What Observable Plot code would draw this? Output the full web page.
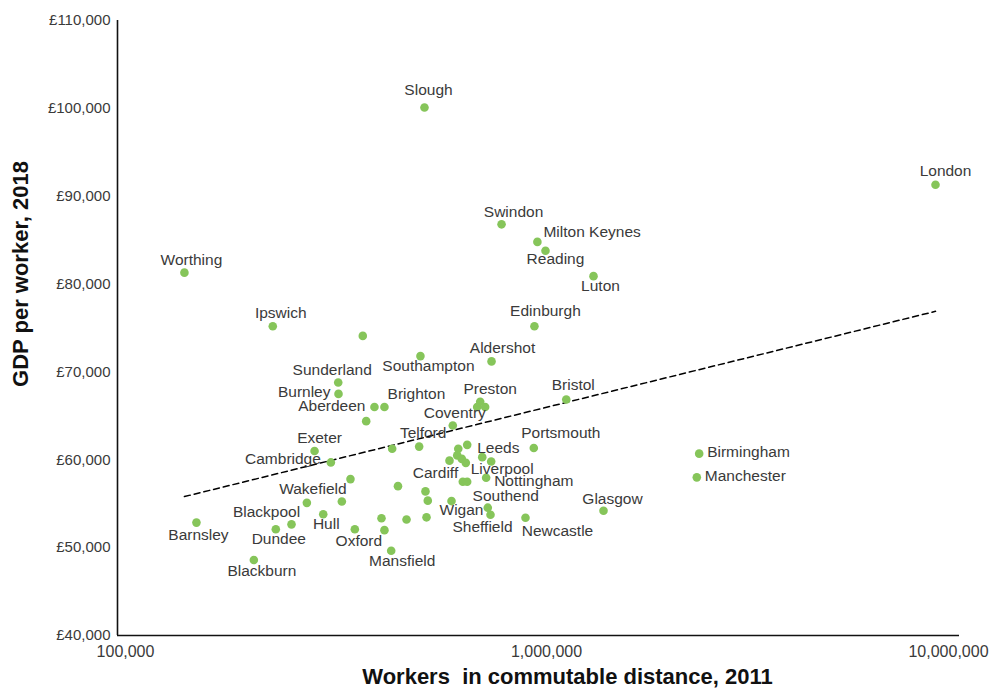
<!DOCTYPE html>
<html><head><meta charset="utf-8">
<script src="https://cdn.jsdelivr.net/npm/d3@7"></script>
<script src="https://cdn.jsdelivr.net/npm/@observablehq/plot@0.6"></script>
<style>body{margin:0;background:#fff}</style>
</head><body><div id="chart"></div>
<script>
// City labels ("" = unlabelled point)
const cities = ["Slough","London","Swindon","Milton Keynes","Reading","Luton","Worthing","Ipswich","","Edinburgh",
  "Southampton","Aldershot","Sunderland","Burnley","Aberdeen","Brighton","","Preston","","",
  "Coventry","Telford","","Exeter","Cambridge","","","","Leeds","Cardiff",
  "","","","","Liverpool","Portsmouth","Nottingham","","","",
  "","Wigan","Wakefield","","Hull","","","","Blackpool","Dundee",
  "Oxford","","Mansfield","Blackburn","Southend","Sheffield","Newcastle","Glasgow","Bristol","Birmingham",
  "Manchester","Barnsley"];
// Workers in commutable distance, 2011
const workers = [536000,8770000,817000,994000,1039000,1351000,144200,233800,382500,978000,
  524300,773500,334400,334900,407700,430600,389700,727000,715000,747000,
  625800,520600,449200,293800,321200,357600,463700,644800,677100,614600,
  641200,657500,672000,735200,772000,974600,751000,661000,677000,538900,
  545800,621400,281700,341100,308100,423700,485900,542000,259000,237700,
  366200,430600,446800,210800,757700,769100,931300,1427000,1164000,2408000,
  2377000,154000];
// GDP per worker, 2018 (£)
const gdp = [100100,91300,86800,84800,83800,80900,81300,75200,74100,75200,
  71800,71200,68800,67500,66000,66000,64400,66600,66000,66000,
  63900,61500,61250,61000,59700,57800,57000,61250,61700,59900,
  60500,60100,59650,60300,59800,61350,57950,57500,57500,56400,
  55350,55300,55100,55250,53800,53350,53200,53450,52650,52100,
  52100,51990,49650,48600,54550,53750,53400,54200,66860,60700,
  58000,52850];
const xTicks = [100000, 1000000, 10000000];
const yTicks = [40000, 50000, 60000, 70000, 80000, 90000, 100000, 110000];
const xTitle = "Workers  in commutable distance, 2011";
const yTitle = "GDP per worker, 2018";

// label placement (offset from the dot, in px) and anchor
const labelPlacement = {
  "Slough":[4,-17,"middle"], "London":[10,-14,"middle"], "Swindon":[12,-12,"middle"],
  "Milton Keynes":[6,-10,"start"], "Reading":[10,8,"middle"], "Luton":[7,10,"middle"],
  "Worthing":[7,-13,"middle"], "Ipswich":[8,-13,"middle"], "Edinburgh":[11,-15,"middle"],
  "Southampton":[8,10,"middle"], "Aldershot":[11,-13,"middle"], "Sunderland":[-6,-12,"middle"],
  "Burnley":[-8,-2,"end"], "Aberdeen":[-9,-1,"end"], "Brighton":[32,-13,"middle"],
  "Preston":[10,-13,"middle"], "Coventry":[2,-12,"middle"], "Telford":[4,-14,"middle"],
  "Exeter":[5,-13,"middle"], "Cambridge":[-10,-3,"end"], "Leeds":[10,3,"start"],
  "Cardiff":[-14,12,"middle"], "Liverpool":[11,7,"middle"], "Portsmouth":[27,-15,"middle"],
  "Nottingham":[8,3,"start"], "Wigan":[10,9,"middle"], "Wakefield":[6,-14,"middle"],
  "Hull":[3,10,"middle"], "Blackpool":[-25,-12,"middle"], "Dundee":[3,10,"middle"],
  "Oxford":[4,12,"middle"], "Mansfield":[11,10,"middle"], "Blackburn":[8,11,"middle"],
  "Southend":[18,-12,"middle"], "Sheffield":[-8,12,"middle"], "Newcastle":[32,13,"middle"],
  "Glasgow":[9,-12,"middle"], "Bristol":[7,-14,"middle"], "Birmingham":[8,-2,"start"],
  "Manchester":[8,-1,"start"], "Barnsley":[2,12,"middle"]
};

const rows = cities.map((c, i) => ({city: c, workers: workers[i], gdp: gdp[i]}));

// logarithmic trend line fitted to the data
const lx = rows.map(d => Math.log10(d.workers));
const mx = d3.mean(lx), my = d3.mean(rows, d => d.gdp);
const slope = d3.sum(rows, (d, i) => (lx[i] - mx) * (d.gdp - my)) / d3.sum(lx, v => (v - mx) ** 2);
const icpt = my - slope * mx;
const [xmin, xmax] = d3.extent(workers);
const trend = [xmin, xmax].map(w => ({workers: w, gdp: icpt + slope * Math.log10(w)}));

const labelMarks = rows.filter(d => d.city).map(d => {
  const [dx, dy, anchor] = labelPlacement[d.city] || [0, -12, "middle"];
  return Plot.text([d], {x: "workers", y: "gdp", text: "city", dx, dy, textAnchor: anchor,
    fontSize: 15.5, fill: "#3a3a3a"});
});

const chart = Plot.plot({
  width: 995, height: 689,
  marginLeft: 117, marginRight: 36, marginTop: 20, marginBottom: 54,
  style: {fontFamily: "'Liberation Sans', Arial, sans-serif", background: "#fff", color: "#3a3a3a"},
  x: {type: "log", domain: [100000, 10000000]},
  y: {domain: [40000, 110000]},
  marks: [
    Plot.axisY({ticks: yTicks, tickSize: 0, tickPadding: 7, fontSize: 15, label: null,
      tickFormat: d => "£" + d3.format(",")(d)}),
    Plot.axisX({ticks: xTicks.slice(0, 2), tickSize: 0, tickPadding: 10, fontSize: 16, label: null, dx: 8,
      tickFormat: d3.format(",")}),
    Plot.axisX({ticks: xTicks.slice(2), tickSize: 0, tickPadding: 10, fontSize: 16, label: null, dx: -11,
      tickFormat: d3.format(",")}),
    Plot.line(trend, {x: "workers", y: "gdp", stroke: "#000", strokeWidth: 1.5, strokeDasharray: "6,4"}),
    Plot.dot(rows, {x: "workers", y: "gdp", r: 4.3, fill: "#86c55a"}),
    ...labelMarks,
    Plot.ruleX([100000], {stroke: "#111", strokeWidth: 1.6}),
    Plot.ruleY([40000], {stroke: "#111", strokeWidth: 1.6}),
    Plot.text([xTitle], {frameAnchor: "bottom", textAnchor: "middle", lineAnchor: "middle", dx: 29, dy: 41,
      fontSize: 22, fontWeight: "bold", fill: "#111"}),
    Plot.text([yTitle], {frameAnchor: "left", textAnchor: "middle", lineAnchor: "middle", rotate: -90, dx: -97, dy: -54,
      fontSize: 22, fontWeight: "bold", fill: "#111"})
  ]
});
document.getElementById("chart").append(chart);
</script>
</body></html>
